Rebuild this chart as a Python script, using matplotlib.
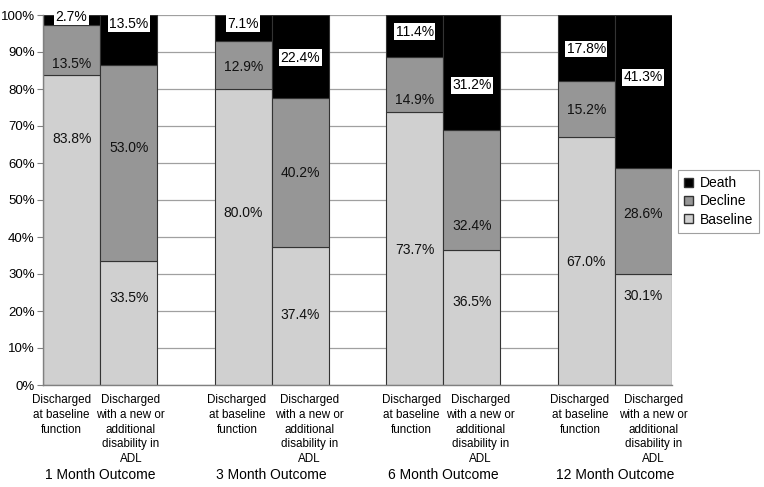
import matplotlib
matplotlib.use("Agg")
import matplotlib.pyplot as plt
import numpy as np
from matplotlib.patches import Patch
from matplotlib.transforms import blended_transform_factory, offset_copy

plt.rcParams['font.family'] = ['Liberation Sans', 'DejaVu Sans']

groups = ["1 Month Outcome", "3 Month Outcome", "6 Month Outcome", "12 Month Outcome"]
bar_labels = ["Discharged\nat baseline\nfunction",
              "Discharged\nwith a new or\nadditional\ndisability in\nADL"]
# per bar order: g1b1, g1b2, g2b1, g2b2, ...
baseline = [83.8, 33.5, 80.0, 37.4, 73.7, 36.5, 67.0, 30.1]
decline = [13.5, 53.0, 12.9, 40.2, 14.9, 32.4, 15.2, 28.6]
death = [2.7, 13.5, 7.1, 22.4, 11.4, 31.2, 17.8, 41.3]

# label heights (layout, in % units) as placed in the reference
baseline_lab_y = [66.5, 23.5, 46.5, 18.9, 36.5, 22.5, 33.3, 24.0]
decline_lab_y = [86.8, 64.0, 86.0, 57.4, 77.0, 43.0, 74.3, 46.1]
death_lab_y = [99.5, 97.7, 97.7, 88.5, 95.5, 81.0, 90.8, 83.2]
# horizontal nudges of the category labels (points)
cat_dx = [-7.5, 1.5, -4.5, 6.5, -2.5, 6.0, -4.5, 7.0]

c_death = "#000000"
c_decline = "#969696"
c_base = "#d0d0d0"
edge = "#333333"

fig = plt.figure(figsize=(7.64, 4.87), dpi=100)
ax = fig.add_axes([43 / 764, 1 - 385 / 487, (672 - 43) / 764, 370 / 487])

x = np.array([g * 3 + i for g in range(len(groups)) for i in range(2)], dtype=float)
base = np.array(baseline)
dec = np.array(decline)
dth = np.array(death)

ax.bar(x, base, width=1.0, color=c_base, edgecolor=edge, linewidth=0.8, zorder=2)
ax.bar(x, dec, width=1.0, bottom=base, color=c_decline, edgecolor=edge, linewidth=0.8, zorder=2)
ax.bar(x, dth, width=1.0, bottom=base + dec, color=c_death, edgecolor=edge, linewidth=0.8, zorder=2)

for xi, v, y in zip(x, baseline, baseline_lab_y):
    ax.text(xi, y, f"{v:.1f}%", ha="center", va="center", fontsize=10, color="#111111", zorder=4)
for xi, v, y in zip(x, decline, decline_lab_y):
    ax.text(xi, y, f"{v:.1f}%", ha="center", va="center", fontsize=10, color="#111111", zorder=4)
for xi, v, y in zip(x, death, death_lab_y):
    ax.text(xi, y, f"{v:.1f}%", ha="center", va="center", fontsize=10, color="#000000", zorder=4,
            bbox=dict(boxstyle="square,pad=0.1", facecolor="white", edgecolor="none"), clip_on=False)

ax.set_xlim(-0.5, 10.5)
ax.set_ylim(0, 100)
ax.set_yticks(np.arange(0, 101, 10))
ax.set_yticklabels([f"{t}%" for t in range(0, 101, 10)], fontsize=9.5)
ax.yaxis.grid(True, color="#a0a0a0", linewidth=0.9, zorder=0)
ax.set_axisbelow(True)
ax.tick_params(axis="y", length=4, color="#808080", pad=2)
ax.set_xticks(x)
ax.set_xticklabels([])
ax.tick_params(axis="x", length=0)
for s in ["top", "right"]:
    ax.spines[s].set_visible(False)
for s in ["left", "bottom"]:
    ax.spines[s].set_color("#808080")
    ax.spines[s].set_linewidth(1.0)

trans = blended_transform_factory(ax.transData, ax.transAxes)
for i, xi in enumerate(x):
    t = offset_copy(trans, fig=fig, x=cat_dx[i], y=-6.5, units="points")
    ax.text(xi, 0, bar_labels[i % 2], ha="center", va="top", fontsize=8.4,
            linespacing=1.31, transform=t, clip_on=False)

for g, name in enumerate(groups):
    ax.text(g * 3 + 0.5, -24.2, name, ha="center", va="center", fontsize=10,
            transform=ax.transData, clip_on=False)

handles = [Patch(facecolor=c_death, edgecolor=edge, label="Death"),
           Patch(facecolor=c_decline, edgecolor=edge, label="Decline"),
           Patch(facecolor=c_base, edgecolor=edge, label="Baseline")]
leg = fig.legend(handles=handles, loc="upper left", bbox_to_anchor=(678 / 764, 1 - 170 / 487),
                 fontsize=10, frameon=True, fancybox=False, edgecolor="#888888",
                 handlelength=0.65, handleheight=0.65, handletextpad=0.45, borderpad=0.45,
                 labelspacing=0.3, borderaxespad=0)
leg.get_frame().set_linewidth(0.8)

fig.savefig("out.png", dpi=100)
